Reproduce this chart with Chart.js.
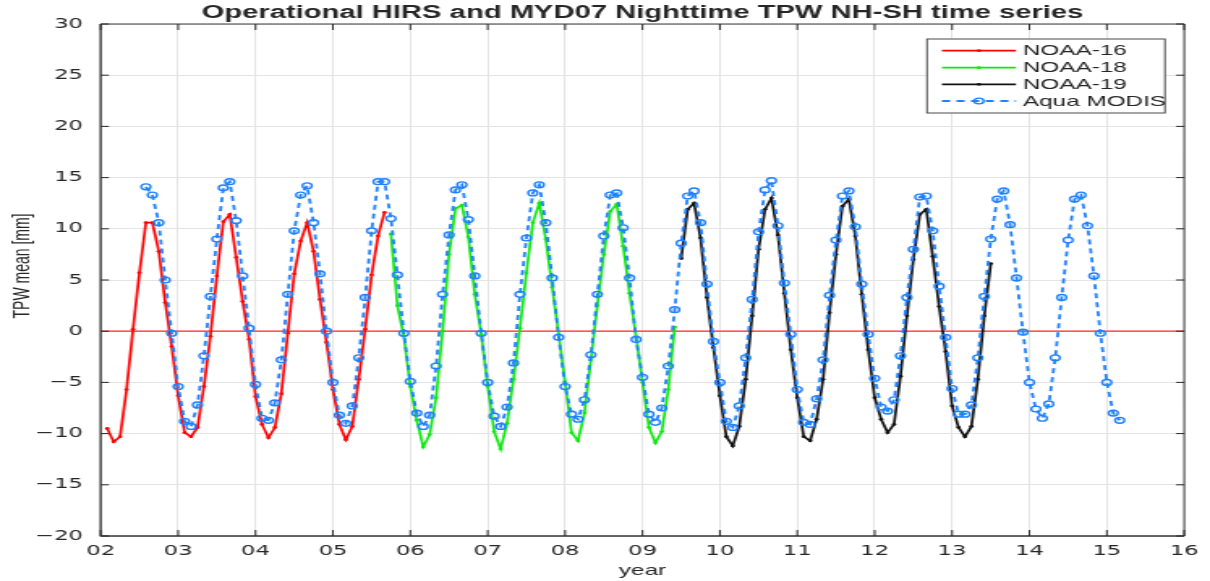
<!DOCTYPE html>
<html><head><meta charset="utf-8">
<script src="https://cdn.jsdelivr.net/npm/chart.js@4.4.1/dist/chart.umd.min.js"></script>
<style>
html,body{margin:0;padding:0;background:#fff;overflow:hidden;width:1210px;height:581px;}
#wrap{position:absolute;left:0;top:0;width:747px;height:581px;transform:scaleX(1.6198);transform-origin:0 0;}
canvas{display:block;}
</style></head><body>
<div id="wrap"><canvas id="c" width="747" height="581" style="width:747px;height:581px"></canvas></div>
<script>
// ---- data (monthly means, x = year-2000 + month/12) ----
const chartTitle = 'Operational HIRS and MYD07 Nighttime TPW NH-SH time series';
const xTitle = 'year';
const yTitle = 'TPW mean [mm]';
const xTicks = [2,3,4,5,6,7,8,9,10,11,12,13,14,15,16];
const yTicks = [-20,-15,-10,-5,0,5,10,15,20,25,30];
const seriesNames = ['NOAA-16','NOAA-18','NOAA-19','Aqua MODIS'];

const noaa16Start = [2002, 1];
const noaa16Values = [
 -9.5,-10.8,-10.3,-5.7,0.2,5.7,10.6,10.6,7.8,2.8,-1.5,-6.3,
 -9.9,-10.3,-9.4,-5.4,-0.5,5.4,10.7,11.4,7.2,2.9,-0.8,-6.4,
 -9.1,-10.4,-9.4,-6.1,-0.2,5.6,8.8,10.6,7.8,3.1,-1.1,-5.7,
 -9.1,-10.6,-9.3,-4.7,0.2,5.5,9.3,11.6];

const noaa18Start = [2005, 9];
const noaa18Values = [
 9.5,2.5,-0.5,-5.4,
 -8.7,-11.3,-10.1,-6.5,0.0,7.5,12.0,12.3,9.2,3.6,-0.3,-5.4,
 -9.8,-11.5,-9.0,-4.7,0.3,5.7,10.6,12.5,9.0,4.3,-0.3,-5.0,
 -9.9,-10.7,-8.0,-2.8,2.5,7.5,11.7,12.4,8.3,3.7,-0.5,-5.0,
 -9.4,-10.9,-9.8,-5.7,0.4];

const noaa19Start = [2009, 6];
const noaa19Values = [
 7.1,11.9,12.5,9.1,3.3,-1.6,-6.3,
 -10.3,-11.2,-9.3,-4.7,1.5,8.0,11.9,13.0,9.4,3.7,-1.8,-6.5,
 -10.3,-10.7,-8.6,-4.7,1.8,7.5,12.2,12.9,9.3,3.6,-1.8,-6.5,
 -8.6,-9.9,-9.1,-4.4,1.5,7.0,11.4,11.9,7.3,2.4,-2.0,-7.3,
 -9.4,-10.3,-9.3,-4.7,1.5,6.6];

const modisStart = [2002, 7];
const modisValues = [
 14.1,13.3,10.6,5.0,-0.2,-5.4,
 -8.8,-9.3,-7.2,-2.4,3.4,9.0,14.0,14.6,10.8,5.4,0.3,-5.2,
 -8.5,-8.7,-7.0,-2.8,3.6,9.8,13.3,14.2,10.6,5.6,0.0,-5.0,
 -8.2,-9.0,-7.3,-2.6,3.3,9.8,14.6,14.6,11.0,5.5,-0.2,-4.9,
 -8.0,-9.3,-8.2,-3.4,3.6,9.4,13.8,14.3,10.9,5.4,-0.2,-5.0,
 -8.3,-9.3,-7.4,-3.1,3.6,9.1,13.5,14.3,10.6,5.2,-0.6,-5.4,
 -8.1,-8.6,-6.7,-2.3,3.6,9.3,13.3,13.5,10.1,5.2,-0.8,-4.5,
 -8.1,-8.9,-7.5,-3.4,2.1,8.6,13.2,13.7,10.6,4.6,-1.0,-5.0,
 -8.8,-9.4,-7.3,-2.6,3.1,9.7,13.8,14.7,10.3,4.7,-0.3,-5.7,
 -8.9,-9.1,-6.6,-2.8,3.5,8.9,13.2,13.7,10.2,4.6,-0.3,-4.6,
 -7.4,-7.8,-6.7,-2.4,3.3,8.0,13.1,13.2,9.8,4.4,-0.6,-5.6,
 -8.1,-8.1,-7.2,-2.6,3.4,9.0,12.9,13.7,10.4,5.2,-0.1,-5.0,
 -7.6,-8.5,-7.1,-2.6,3.3,8.9,12.9,13.3,10.3,5.4,-0.2,-5.0,
 -8.0,-8.7];

const refLineX = [2,16];
const refLineY = [0,0];

function toPoints(start, values){
  return values.map((v,i)=>({x:(start[0]-2000)+(start[1]+i)/12, y:v}));
}

const FONT_TICK = '"DejaVu Sans", sans-serif';
const FONT_TXT = '"Liberation Sans", Arial, sans-serif';
const DARK = '#262626';

const decorPlugin = {
  id:'decor',
  afterDatasetsDraw(chart){
    const ctx = chart.ctx, a = chart.chartArea;
    const xs = chart.scales.x, ys = chart.scales.y;
    ctx.save();
    ctx.strokeStyle = '#3a3a3a'; ctx.lineWidth = 1;
    ctx.beginPath();
    ctx.rect(a.left, a.top, a.right-a.left, a.bottom-a.top);
    ctx.stroke();
    ctx.strokeStyle = '#555'; ctx.lineWidth = 1.3;
    ctx.beginPath();
    ctx.moveTo(a.left, a.top); ctx.lineTo(a.left, a.bottom); ctx.lineTo(a.right, a.bottom);
    ctx.stroke();
    ctx.strokeStyle = DARK; ctx.lineWidth = 1;
    ctx.beginPath();
    xTicks.forEach(t=>{
      const px = xs.getPixelForValue(t);
      ctx.moveTo(px, a.bottom); ctx.lineTo(px, a.bottom-6);
      ctx.moveTo(px, a.top); ctx.lineTo(px, a.top+6);
    });
    yTicks.forEach(t=>{
      const py = ys.getPixelForValue(t);
      ctx.moveTo(a.left, py); ctx.lineTo(a.left+5, py);
      ctx.moveTo(a.right, py); ctx.lineTo(a.right-5, py);
    });
    ctx.stroke();
    ctx.restore();
  },
  afterDraw(chart){
    const ctx = chart.ctx;
    ctx.save();
    // y axis title
    ctx.translate(14.2, 266);
    ctx.rotate(-Math.PI/2);
    ctx.font = '14px ' + FONT_TXT;
    ctx.fillStyle = DARK;
    ctx.textAlign = 'center'; ctx.textBaseline = 'middle';
    ctx.fillText(yTitle, 0, 0);
    ctx.restore();
    // legend box
    ctx.save();
    const bx0 = 572.3, bx1 = 719.2, by0 = 39, by1 = 113;
    ctx.fillStyle = '#fff';
    ctx.fillRect(bx0, by0, bx1-bx0, by1-by0);
    ctx.strokeStyle = '#4a4a4a'; ctx.lineWidth = 1;
    ctx.strokeRect(bx0, by0, bx1-bx0, by1-by0);
    const rows = [50.7, 67.7, 84.3, 101];
    const l0 = 581.5, l1 = 627.2, lm = (l0+l1)/2;
    for (let i=0;i<4;i++){
      const ds = chart.data.datasets[i];
      const y = rows[i];
      ctx.strokeStyle = ds.borderColor;
      ctx.lineWidth = ds.borderWidth;
      ctx.setLineDash(ds.borderDash || []);
      ctx.beginPath(); ctx.moveTo(l0, y); ctx.lineTo(l1, y); ctx.stroke();
      ctx.setLineDash([]);
      ctx.beginPath();
      ctx.arc(lm, y, ds.pointRadius, 0, Math.PI*2);
      if (ds.legendHollow){ ctx.lineWidth = ds.pointBorderWidth; ctx.stroke(); }
      else { ctx.fillStyle = ds.borderColor; ctx.fill(); }
      ctx.fillStyle = DARK;
      ctx.font = '15px ' + FONT_TXT;
      ctx.textAlign = 'left'; ctx.textBaseline = 'middle';
      ctx.fillText(ds.label, 631.5, y+0.5);
    }
    ctx.restore();
  }
};

const lineDs = (label, pts, color, order) => ({
  label, data: pts, borderColor: color, backgroundColor: color,
  borderWidth: 1.7, pointRadius: 1.4, pointHoverRadius: 1.4,
  pointBackgroundColor: color, pointBorderWidth: 0, tension: 0, order, fill:false
});

new Chart(document.getElementById('c'), {
  type: 'line',
  data: {
    datasets: [
      lineDs(seriesNames[0], toPoints(noaa16Start, noaa16Values), '#ff0000', 3),
      lineDs(seriesNames[1], toPoints(noaa18Start, noaa18Values), '#0ee80e', 2),
      lineDs(seriesNames[2], toPoints(noaa19Start, noaa19Values), '#111111', 1),
      {
        label: seriesNames[3], data: toPoints(modisStart, modisValues),
        borderColor: '#1f80ff', borderWidth: 1.8, borderDash: [5,4],
        pointStyle: 'circle', pointRadius: 2.9, pointHoverRadius: 2.9,
        pointBorderWidth: 1.4, pointBorderColor: '#1f80ff',
        pointBackgroundColor: 'rgba(0,0,0,0)', legendHollow: true,
        tension: 0, order: 0, fill:false
      },
      {
        label: 'zero', data: refLineX.map((x,i)=>({x, y: refLineY[i]})),
        borderColor: '#ff2a2a', borderWidth: 1.2, pointRadius: 0, order: 10, fill:false
      }
    ]
  },
  options: {
    responsive: false, animation: false, devicePixelRatio: 1,
    layout: { padding: { left: 0, right: 13.3, top: 0, bottom: 0 } },
    plugins: {
      legend: { display: false },
      tooltip: { enabled: false },
      title: {
        display: true, text: chartTitle, fullSize: false,
        color: DARK, font: { family: FONT_TXT, size: 18, weight: 'bold', lineHeight: 1 },
        padding: { top: 4, bottom: 2 }
      }
    },
    scales: {
      x: {
        type: 'linear', min: 2, max: 16,
        afterFit: s => { s.height = 45; },
        afterBuildTicks: s => { s.ticks = xTicks.map(v=>({value:v})); },
        ticks: {
          color: DARK, font: { family: FONT_TICK, size: 14 }, padding: 7, maxRotation: 0,
          callback: v => String(v).padStart(2,'0')
        },
        grid: { color: '#e4e4e4', lineWidth: 1, drawTicks: false },
        border: { display: false },
        title: { display: true, text: xTitle, color: DARK, font: { family: FONT_TXT, size: 15, lineHeight: 1.2 }, padding: { top: 0, bottom: 1 } }
      },
      y: {
        min: -20, max: 30,
        afterFit: s => { s.width = 62.2; },
        afterBuildTicks: s => { s.ticks = yTicks.map(v=>({value:v})); },
        ticks: {
          color: DARK, font: { family: FONT_TICK, size: 14 }, padding: 11,
          callback: v => String(v).replace('-', '\u2212')
        },
        grid: { color: '#e4e4e4', lineWidth: 1, drawTicks: false },
        border: { display: false }
      }
    }
  },
  plugins: [decorPlugin]
});
</script>
</body></html>
